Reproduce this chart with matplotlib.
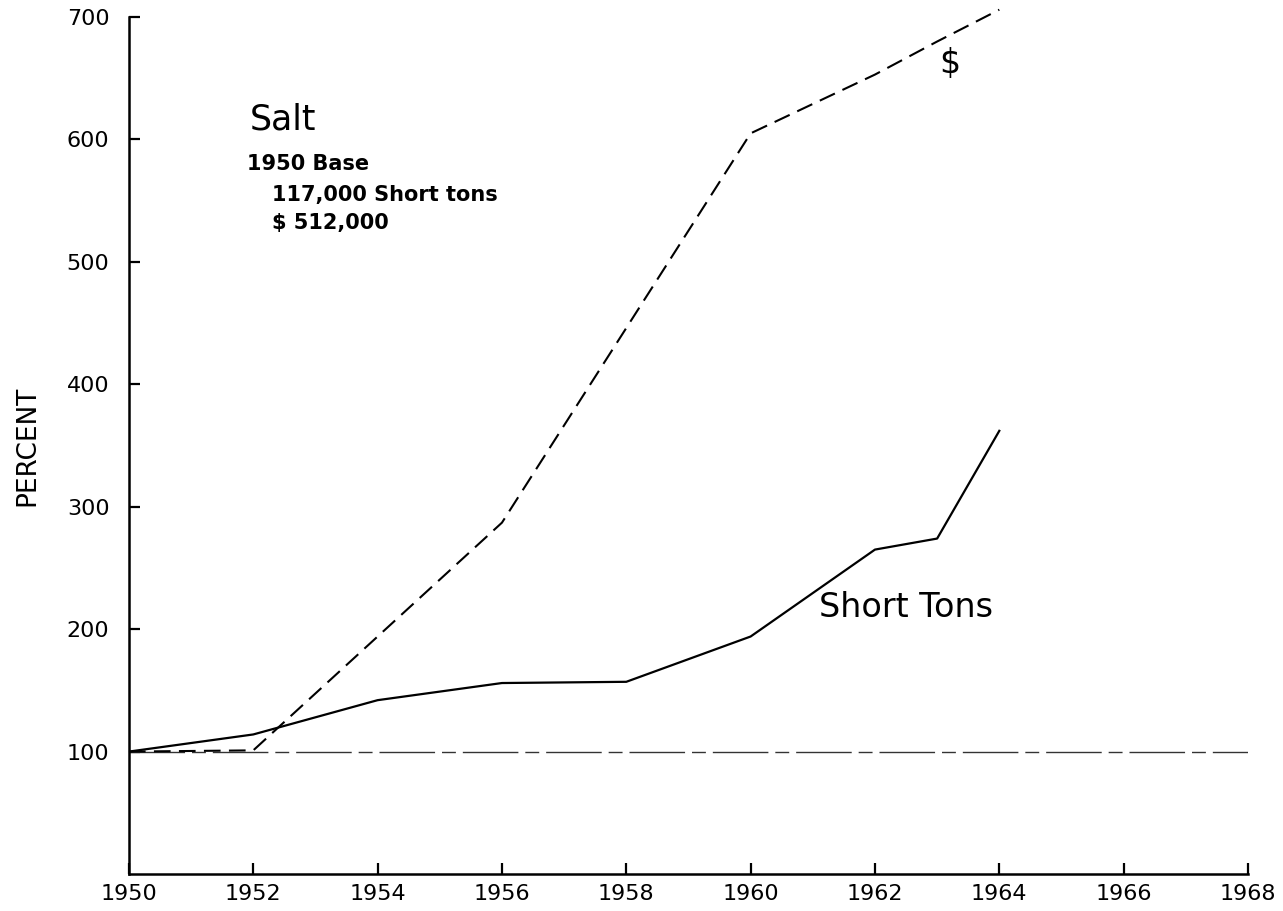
import matplotlib
matplotlib.use("Agg")
import matplotlib.pyplot as plt

years_tons = [1950, 1952, 1954, 1956, 1958, 1960, 1962, 1963, 1964]
short_tons = [100, 114, 142, 156, 157, 194, 265, 274, 362]

years_dollars = [1950, 1952, 1956, 1960, 1962, 1963, 1964]
dollars = [100, 101, 287, 605, 653, 680, 706]

base_years = [1950, 1968]
base_values = [100, 100]

x_ticks = list(range(1950, 1969, 2))
y_ticks = [100, 200, 300, 400, 500, 600, 700]

plt.rcParams['font.family'] = ['DejaVu Sans']

fig = plt.figure(figsize=(12.83, 9.11), dpi=100)
ax = fig.add_axes([0.1005, 0.0406, 0.8722, 0.9407])

ax.plot(base_years, base_values, color='#333333', lw=1.0, dashes=(40, 5, 10, 5))
ax.plot(years_tons, short_tons, color='black', lw=1.6)
ax.plot(years_dollars, dollars, color='black', lw=1.5, dashes=(8, 4), clip_on=False)

ax.set_xlim(1950, 1968)
ax.set_ylim(0, 700)
ax.set_xticks(x_ticks)
ax.set_yticks(y_ticks)
ax.set_xticklabels([str(v) for v in x_ticks])
ax.set_yticklabels([str(v) for v in y_ticks])

for s in ['top', 'right']:
    ax.spines[s].set_visible(False)
for s in ['left', 'bottom']:
    ax.spines[s].set_linewidth(1.8)

ax.tick_params(axis='both', direction='in', length=8, width=1.6, labelsize=16)
ax.tick_params(axis='y', pad=14)
ax.tick_params(axis='x', pad=7)

ax.set_ylabel('PERCENT', fontsize=19, labelpad=19)

ax.text(1951.95, 616, 'Salt', fontsize=25, ha='left', va='center')
ax.text(1951.9, 580, '1950 Base', fontsize=15, fontweight='bold', ha='left', va='center')
ax.text(1952.3, 555, '117,000 Short tons', fontsize=15, fontweight='bold', ha='left', va='center')
ax.text(1952.3, 532, '$ 512,000', fontsize=15, fontweight='bold', ha='left', va='center')
ax.text(1961.1, 218, 'Short Tons', fontsize=24, ha='left', va='center')
ax.text(1963.2, 662, '$', fontsize=24, ha='center', va='center')

fig.savefig('out.png', dpi=100)
